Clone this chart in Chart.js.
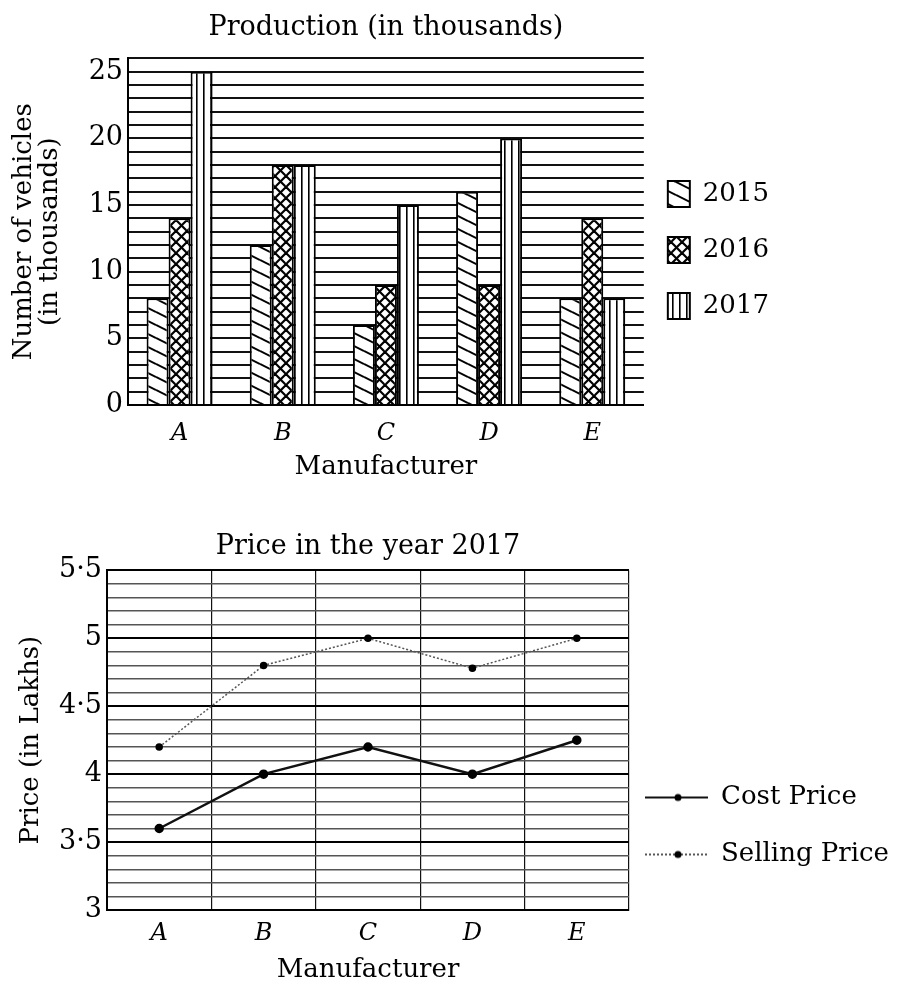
<!DOCTYPE html>
<html>
<head>
<meta charset="utf-8">
<script src="https://cdn.jsdelivr.net/npm/chart.js@4.4.0/dist/chart.umd.min.js"></script>
<style>
  html,body{margin:0;padding:0;background:#fff;}
  #wrap{position:relative;width:904px;height:988px;overflow:hidden;}
  canvas{position:absolute;left:0;}
  #chartProd{top:0;}
  #chartPrice{top:500px;}
</style>
</head>
<body>
<div id="wrap">
  <canvas id="chartProd" width="904" height="500"></canvas>
  <canvas id="chartPrice" width="904" height="488"></canvas>
</div>
<script>
// ---- data ----
const manufacturers=['A','B','C','D','E'];
const years=['2015','2016','2017'];
const prod2015=[8,12,6,16,8];
const prod2016=[14,18,9,9,14];
const prod2017=[25,18,15,20,8];
const prodTicks=[0,5,10,15,20,25];
const costPrice=[3.6,4.0,4.2,4.0,4.25];
const sellingPrice=[4.2,4.8,5.0,4.78,5.0];
const priceTicks=[3,3.5,4,4.5,5,5.5];

Chart.defaults.font.family="'DejaVu Serif',serif";
Chart.defaults.color='#000';

// hatch patterns like the printed bars
function makePattern(w,h,draw){
  const c=document.createElement('canvas');c.width=w;c.height=h;
  const g=c.getContext('2d');
  g.fillStyle='#fff';g.fillRect(0,0,w,h);
  g.strokeStyle='#000';g.fillStyle='#000';
  draw(g,w,h);
  return g.createPattern(c,'repeat');
}
const hatch2015=makePattern(26,13,(g,w,h)=>{
  g.lineWidth=2;
  for(let k=-1;k<=1;k++){g.beginPath();g.moveTo(0,k*h);g.lineTo(w,k*h+h);g.stroke();}
});
const hatch2016=makePattern(11,11,(g,w,h)=>{
  g.lineWidth=2.2;
  for(let k=-1;k<=1;k++){
    g.beginPath();g.moveTo(k*w,0);g.lineTo(k*w+w,h);g.stroke();
    g.beginPath();g.moveTo(k*w+w,0);g.lineTo(k*w,h);g.stroke();
  }
});
const hatch2017=makePattern(7,4,(g,w,h)=>{g.fillRect(0,0,1.6,h);});

// nudges the built-in legend to where the printed one sits
const legendShift={
  id:'legendShift',
  defaults:{x:0,y:0},
  afterLayout(chart,args,opts){
    const lg=chart.legend;
    if(!lg)return;
    lg.left+=opts.x;lg.right+=opts.x;
    lg.top+=opts.y;lg.bottom+=opts.y;
  }
};

// 1. Production bar chart
new Chart(document.getElementById('chartProd'),{
  type:'bar',
  data:{
    labels:manufacturers,
    datasets:[
      {label:years[0],data:prod2015,backgroundColor:hatch2015,borderColor:'#000',borderWidth:2},
      {label:years[1],data:prod2016,backgroundColor:hatch2016,borderColor:'#000',borderWidth:2},
      {label:years[2],data:prod2017,backgroundColor:hatch2017,borderColor:'#000',borderWidth:2}
    ]
  },
  options:{
    responsive:false,animation:false,events:[],
    layout:{padding:{right:119}},
    datasets:{bar:{barPercentage:1,categoryPercentage:0.64}},
    plugins:{
      title:{display:true,text:'Production (in thousands)',fullSize:false,color:'#000',font:{size:27,weight:'normal'},padding:{top:12,bottom:14}},
      legend:{position:'right',labels:{boxWidth:22,boxHeight:26,padding:30,color:'#000',font:{size:26}}},
      legendShift:{x:-6,y:0},
      tooltip:{enabled:false}
    },
    scales:{
      x:{
        grid:{display:false},
        border:{color:'#000',width:2},
        ticks:{font:{size:24,style:'italic'},padding:6,color:'#000'},
        title:{display:true,text:'Manufacturer',color:'#000',font:{size:26,lineHeight:1},padding:{bottom:20}},
        afterFit:s=>{s.height=95;}
      },
      y:{
        min:0,max:26,
        ticks:{stepSize:1,autoSkip:false,maxTicksLimit:100,padding:5,color:'#000',font:{size:27},
          callback:v=>prodTicks.includes(v)?v:''},
        grid:{color:'#111',lineWidth:2,drawTicks:false},
        border:{color:'#000',width:2},
        title:{display:true,text:['Number of vehicles','(in thousands)'],color:'#000',font:{size:26,lineHeight:1},padding:{top:11}},
        afterFit:s=>{s.width=128;}
      }
    }
  },
  plugins:[legendShift]
});

// 2. Price line chart
function legendIcon(dash,lw){
  const c=document.createElement('canvas');c.width=63;c.height=10;
  const g=c.getContext('2d');
  g.strokeStyle='#111';g.lineWidth=lw;g.setLineDash(dash);
  g.beginPath();g.moveTo(0,5);g.lineTo(63,5);g.stroke();
  g.fillStyle='#000';g.beginPath();g.arc(33,5,3.5,0,Math.PI*2);g.fill();
  return c;
}
const priceIcons=[legendIcon([],2.2),legendIcon([2,2],1.4)];
const isMajor=v=>priceTicks.includes(Math.round(v*10)/10);

new Chart(document.getElementById('chartPrice'),{
  type:'line',
  data:{
    labels:manufacturers,
    datasets:[
      {label:'Cost Price',data:costPrice,borderColor:'#111',borderWidth:2.5,pointRadius:3.5,pointBackgroundColor:'#000',pointBorderColor:'#000',tension:0},
      {label:'Selling Price',data:sellingPrice,borderColor:'#555',borderWidth:1.5,borderDash:[2,2],pointRadius:3,pointBackgroundColor:'#000',pointBorderColor:'#000',tension:0}
    ]
  },
  options:{
    responsive:false,animation:false,events:[],
    plugins:{
      title:{display:true,text:'Price in the year 2017',fullSize:false,color:'#000',font:{size:27,weight:'normal'},padding:{top:31,bottom:7}},
      legend:{position:'right',maxWidth:275,labels:{usePointStyle:true,pointStyleWidth:63,padding:31,color:'#000',font:{size:26},
        generateLabels:ch=>Chart.defaults.plugins.legend.labels.generateLabels(ch).map((it,i)=>({...it,pointStyle:priceIcons[i]}))}},
      legendShift:{x:-15,y:82},
      tooltip:{enabled:false}
    },
    scales:{
      x:{
        offset:true,
        grid:{offset:true,color:'#111',lineWidth:1.2,drawTicks:false},
        border:{color:'#000',width:2},
        ticks:{font:{size:24,style:'italic'},padding:9,color:'#000'},
        title:{display:true,text:'Manufacturer',color:'#000',font:{size:26,lineHeight:1},padding:{bottom:5}},
        afterFit:s=>{s.height=78;}
      },
      y:{
        min:3,max:5.5,
        ticks:{stepSize:0.1,autoSkip:false,maxTicksLimit:100,padding:5,color:'#000',font:{size:27},
          callback:v=>isMajor(v)?String(Math.round(v*10)/10).replace('.','·'):''},
        grid:{drawTicks:false,color:c=>isMajor(c.tick.value)?'#000':'#555',lineWidth:c=>isMajor(c.tick.value)?2:1.4},
        border:{color:'#000',width:2},
        title:{display:true,text:'Price (in Lakhs)',color:'#000',font:{size:26},padding:{top:16}},
        afterFit:s=>{s.width=107;}
      }
    }
  },
  plugins:[legendShift]
});
</script>
</body>
</html>
